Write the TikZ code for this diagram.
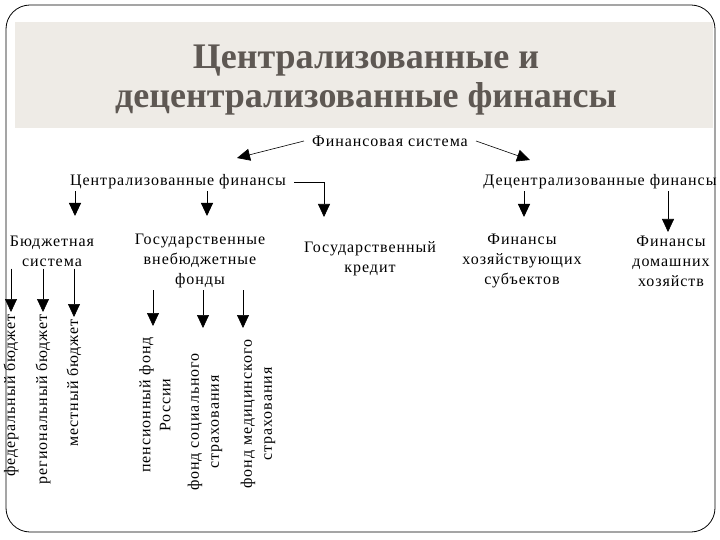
\documentclass[tikz,border=0pt]{standalone}
\usepackage{fontspec}
\setmainfont{Liberation Serif}
\newfontfamily\diagfont[LetterSpace=6]{Liberation Serif}
\usetikzlibrary{arrows.meta,positioning}
\definecolor{SlideGray}{HTML}{EEEBE6}
\definecolor{TitleGray}{HTML}{5E5853}

\begin{document}
\begin{tikzpicture}[x=1pt,y=-1pt,
  lbl/.style={font=\diagfont\fontsize{16}{20}\selectfont,align=center,inner sep=2pt},
  vlbl/.style={lbl,rotate=90},
  arr/.style={-{Triangle[length=13pt,width=12pt]},line width=0.9pt}]
  \useasboundingbox[fill=white] (0,0) rectangle (720,540);
  % slide frame and title band
  \draw[line width=0.8pt,rounded corners=24pt] (6,5) rectangle (715,532);
  \fill[SlideGray] (15,22) rectangle (713,128);
  \node[font=\bfseries\fontsize{36}{39}\selectfont,text=TitleGray,align=center] (title) at (366,80)
    {Централизованные и\\децентрализованные финансы};
  % levels
  \node[lbl,fill=white] (fs) at (390,141) {Финансовая система};
  \node[lbl] (cf) at (178,182) {Централизованные финансы};
  \node[lbl] (df) at (600,182) {Децентрализованные финансы};
  \node[lbl] (bs) at (52,251) {Бюджетная\\система};
  \node[lbl] (vf) at (200,261) {Государственные\\внебюджетные\\фонды};
  \node[lbl] (gk) at (370,259) {Государственный\\кредит};
  \node[lbl] (fh) at (522,261) {Финансы\\хозяйствующих\\субъектов};
  \node[lbl] (fd) at (671,261) {Финансы\\домашних\\хозяйств};
  % budgets and funds
  \node[vlbl,anchor=east] (b1) at (11,312) {федеральный бюджет};
  \node[vlbl,anchor=east] (b2) at (43,312) {региональный бюджет};
  \node[vlbl,anchor=east] (b3) at (74,317) {местный бюджет};
  \node[vlbl] (f1) at (155,405) {пенсионный фонд\\России};
  \node[vlbl] (f2) at (205,422) {фонд социального\\страхования};
  \node[vlbl] (f3) at (258,414) {фонд медицинского\\страхования};
  % arrow tips
  \coordinate (cin) at (237,158);
  \coordinate (din) at (530,160);
  \coordinate (c1) at (75,216);
  \coordinate (c2) at (207,216);
  \coordinate (c3) at (324,217);
  \coordinate (d1) at (524,217);
  \coordinate (d2) at (668,232);
  \coordinate (p1) at (153,326);
  \coordinate (p2) at (203,328);
  \coordinate (p3) at (243,328);
  \draw[arr,line width=0.6pt] ([xshift=-6pt]fs.west) -- (cin);
  \draw[arr,line width=0.6pt] ([xshift=6pt]fs.east) -- (din);
  \foreach \t in {c1,c2}{\draw[arr] (cf.south -| \t) -- (\t);}
  \draw[arr,line width=0.6pt] ([xshift=6pt]cf.east) -| (c3);
  \draw[arr] (df.south -| d1) -- (d1);
  \draw[arr,line width=0.6pt] (df.south -| d2) -- (d2);
  \foreach \n in {b1,b2,b3}{\draw[arr,line width=0.6pt] (bs.south -| \n.east) -- (\n.east);}
  \foreach \t in {p1,p2,p3}{\draw[arr,line width=0.6pt] (vf.south -| \t) -- (\t);}
\end{tikzpicture}
\end{document}
